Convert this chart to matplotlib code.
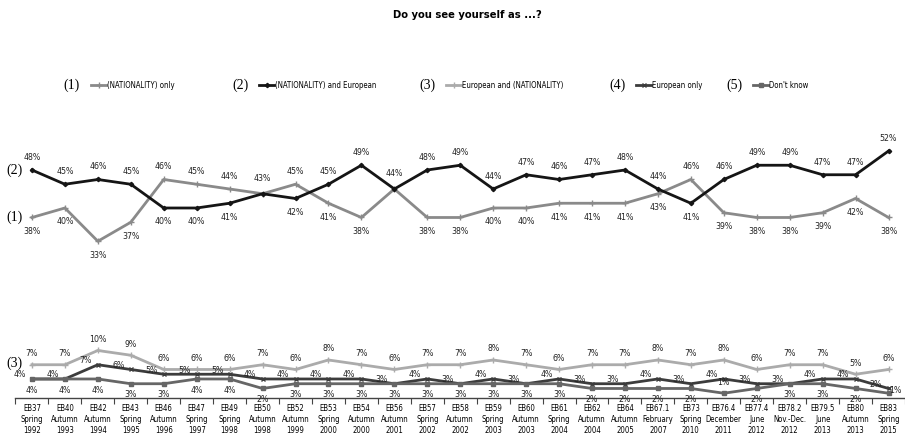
import matplotlib.pyplot as plt
from matplotlib.lines import Line2D

# Eurobarometer waves
waves = ["EB37\nSpring\n1992", "EB40\nAutumn\n1993", "EB42\nAutumn\n1994", "EB43\nSpring\n1995",
         "EB46\nAutumn\n1996", "EB47\nSpring\n1997", "EB49\nSpring\n1998", "EB50\nAutumn\n1998",
         "EB52\nAutumn\n1999", "EB53\nSpring\n2000", "EB54\nAutumn\n2000", "EB56\nAutumn\n2001",
         "EB57\nSpring\n2002", "EB58\nAutumn\n2002", "EB59\nSpring\n2003", "EB60\nAutumn\n2003",
         "EB61\nSpring\n2004", "EB62\nAutumn\n2004", "EB64\nAutumn\n2005", "EB67.1\nFebruary\n2007",
         "EB73\nSpring\n2010", "EB76.4\nDecember\n2011", "EB77.4\nJune\n2012", "EB78.2\nNov.-Dec.\n2012",
         "EB79.5\nJune\n2013", "EB80\nAutumn\n2013", "EB83\nSpring\n2015"]

nat_only = [38, 40, 33, 37, 46, 45, 44, 43, 45, 41, 38, 44, 38, 38, 40, 40, 41, 41, 41, 43,
            46, 39, 38, 38, 39, 42, 38]
nat_and_eu = [48, 45, 46, 45, 40, 40, 41, 43, 42, 45, 49, 44, 48, 49, 44, 47, 46, 47, 48, 44,
              41, 46, 49, 49, 47, 47, 52]
eu_and_nat = [7, 7, 10, 9, 6, 6, 6, 7, 6, 8, 7, 6, 7, 7, 8, 7, 6, 7, 7, 8,
              7, 8, 6, 7, 7, 5, 6]
eu_only = [4, 4, 7, 6, 5, 5, 5, 4, 4, 4, 4, 3, 4, 3, 4, 3, 4, 3, 3, 4,
           3, 4, 3, 3, 4, 4, 2]
dont_know = [4, 4, 4, 3, 3, 4, 4, 2, 3, 3, 3, 3, 3, 3, 3, 3, 3, 2, 2, 2,
             2, 1, 2, 3, 3, 2, 1]

legend_names = ["(NATIONALITY) only", "(NATIONALITY) and European",
                "European and (NATIONALITY)", "European only", "Don't know"]

narrow = dict(family="DejaVu Sans", stretch="condensed")
serif = ["Liberation Serif", "DejaVu Serif"]

styles = [
    dict(color="#8a8a8a", marker="+", ms=4, lw=2.0),
    dict(color="#151515", marker="D", ms=2.2, lw=2.0),
    dict(color="#ababab", marker="+", ms=5, lw=2.0),
    dict(color="#3c3c3c", marker="x", ms=3.5, lw=2.0),
    dict(color="#666666", marker="s", ms=3.2, lw=2.0),
]
series = [nat_only, nat_and_eu, eu_and_nat, eu_only, dont_know]

fig = plt.figure(figsize=(9.05, 4.4), dpi=100)
ax = fig.add_axes([0.0171, 0.0955, 0.9829, 0.6045])
x = list(range(len(waves)))

for vals, st in zip(series, styles):
    ax.plot(x, vals, color=st["color"], lw=st["lw"], marker=st["marker"],
            ms=st["ms"], mew=1.0, zorder=3)

lab = dict(fontsize=6.3, ha="center", va="center", color="#222222", **narrow)

# top pair: higher line labelled above, lower line below
for i in x:
    a, b = nat_only[i], nat_and_eu[i]
    if a == b:
        ax.annotate(f"{b}%", (i, b), xytext=(0, 11), textcoords="offset points", **lab)
        continue
    hi, lo = (b, a) if b > a else (a, b)
    ax.annotate(f"{hi}%", (i, hi), xytext=(0, 9), textcoords="offset points", **lab)
    ax.annotate(f"{lo}%", (i, lo), xytext=(0, -10), textcoords="offset points", **lab)

# bottom group; "Don't know" labels go below unless the point sits on the axis
for i in x:
    ax.annotate(f"{eu_and_nat[i]}%", (i, eu_and_nat[i]), xytext=(0, 8),
                textcoords="offset points", **lab)
    ax.annotate(f"{eu_only[i]}%", (i, eu_only[i]), xytext=(-9, 3),
                textcoords="offset points", **lab)
    if dont_know[i] > 1:
        off = (0, -8)
    elif i == len(x) - 1:
        off = (5, 2)
    else:
        off = (0, 8)
    ax.annotate(f"{dont_know[i]}%", (i, dont_know[i]), xytext=off,
                textcoords="offset points", **lab)

ax.set_xlim(-0.5, 26.45)
ax.set_ylim(0, 56)
ax.set_xticks(x)
ax.set_xticklabels(waves, fontsize=5.6, linespacing=1.3, **narrow)
ax.set_xticks([i + 0.5 for i in range(-1, len(waves))], minor=True)
ax.tick_params(axis="x", which="major", length=0, pad=4)
ax.tick_params(axis="x", which="minor", length=4, width=0.8, color="#444444", direction="out")
ax.set_yticks([])
for s in ["top", "right", "left"]:
    ax.spines[s].set_visible(False)
ax.spines["bottom"].set_color("#444444")
ax.spines["bottom"].set_linewidth(1.0)

# series numbers next to the lines
ax.text(-0.52, nat_and_eu[0], "(2)", fontsize=10, family=serif, ha="center", va="center")
ax.text(-0.52, nat_only[0], "(1)", fontsize=10, family=serif, ha="center", va="center")
ax.text(-0.52, eu_and_nat[0] + 0.3, "(3)", fontsize=10, family=serif, ha="center", va="center")

fig.text(0.516, 0.966, "Do you see yourself as ...?", fontsize=8, fontweight="bold",
         ha="center", va="center", **narrow)

# legend row
leg_y = 1 - 85 / 440
num_x = [72, 240, 427, 617, 734]
for k, (nx, name, st) in enumerate(zip(num_x, legend_names, styles)):
    fig.text(nx / 905, leg_y, f"({k + 1})", fontsize=10, family=serif, ha="center", va="center")
    x0 = (nx + 19) / 905
    x1 = (nx + 34) / 905
    fig.add_artist(Line2D([x0, x1], [leg_y, leg_y], color=st["color"], lw=2,
                          transform=fig.transFigure))
    fig.add_artist(Line2D([(x0 + x1) / 2], [leg_y], color=st["color"], marker=st["marker"],
                          ms=st["ms"], mew=1.0, transform=fig.transFigure))
    fig.text((nx + 35) / 905, leg_y, name, fontsize=5.6, ha="left", va="center", **narrow)

fig.savefig("out.png", dpi=100, facecolor="white")
